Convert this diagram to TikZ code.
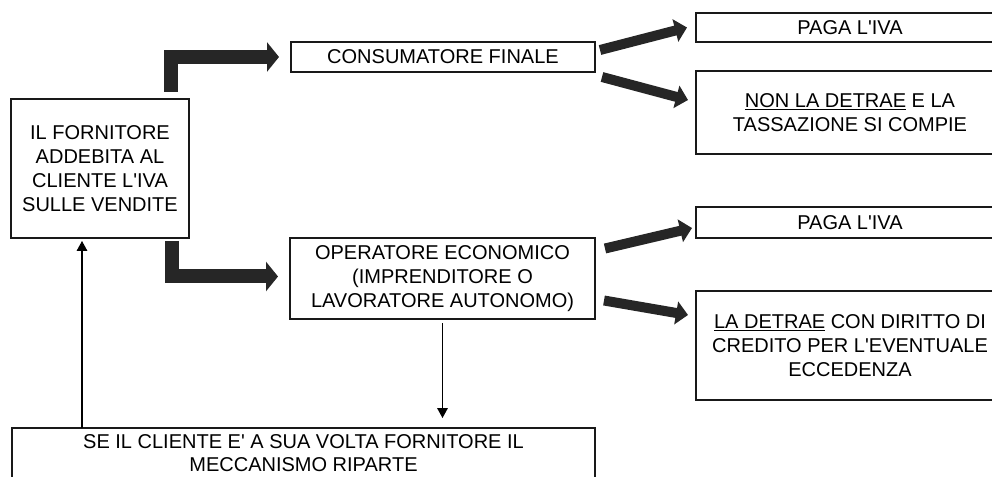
\documentclass[tikz,border=0pt]{standalone}
\usepackage{fontspec}
\setmainfont{Liberation Sans}
\usetikzlibrary{arrows.meta,calc}
\newcommand{\ap}{\textquotesingle}
\begin{document}
\begin{tikzpicture}[x=0.75pt,y=-0.75pt,
  box/.style={draw=black!90, line width=1.2pt, inner sep=0pt, outer sep=0pt,
    align=center, font=\fontsize{15}{18}\selectfont},
  fatelbow/.style={draw=black!85, line width=10.5pt, line join=miter,
    -{Triangle[length=9pt,width=21.75pt]}},
  fatdiag/.style={draw=black!85, line width=7.5pt,
    -{Triangle[length=9pt,width=17pt]}},
  thin/.style={draw=black, line width=0.8pt, -{Triangle[length=7.5pt,width=8pt]}}]
\useasboundingbox (0,0) rectangle (992,477);
\clip (0,0) rectangle (992,477);
\node[box, minimum width=133.5pt, minimum height=104.25pt] (forn) at (100,168.5)
  {IL FORNITORE\\ADDEBITA AL\\CLIENTE L\ap IVA\\SULLE VENDITE};
\node[box, minimum width=228pt, minimum height=22.5pt] (cons) at (443,57)
  {CONSUMATORE FINALE};
\node[box, minimum width=228.75pt, minimum height=60.75pt] (oper) at (442.5,278.5)
  {OPERATORE ECONOMICO\\(IMPRENDITORE O\\LAVORATORE AUTONOMO)};
\node[box, minimum width=231pt, minimum height=22pt] (paga1) at (850,27.5)
  {PAGA L\ap IVA};
\node[box, minimum width=231pt, minimum height=62.25pt] (nonla) at (850,112.5)
  {\underline{NON LA DETRAE} E LA\\TASSAZIONE SI COMPIE};
\node[box, minimum width=231pt, minimum height=23pt] (paga2) at (850,222.5)
  {PAGA L\ap IVA};
\node[box, minimum width=231pt, minimum height=81.75pt] (ladet) at (850,345.5)
  {\underline{LA DETRAE} CON DIRITTO DI\\CREDITO PER L\ap EVENTUALE\\ECCEDENZA};
\node[box, minimum width=437.25pt, minimum height=37.5pt,
  font=\fontsize{15}{17}\selectfont] (se) at (303.5,453)
  {SE IL CLIENTE E\ap{} A SUA VOLTA FORNITORE IL\\MECCANISMO RIPARTE};
% elbow arrows
\draw[fatelbow] ($(forn.north)+(71,-7)$) |- ($(cons.west)+(-12,0)$);
\draw[fatelbow] ($(forn.south)+(72,3)$) |- ($(oper.west)+(-12,-2)$);
% diagonal arrows
\draw[fatdiag] ($(cons.east)+(5,-7)$) -- ($(paga1.west)+(-9,0)$);
\draw[fatdiag] ($(cons.east)+(7,20)$) -- ($(nonla.west)+(-8,-12.5)$);
\draw[fatdiag] ($(oper.east)+(10,-30)$) -- ($(paga2.west)+(-4,5.5)$);
\draw[fatdiag] ($(oper.east)+(9,22)$) -- ($(ladet.west)+(-8,-30.5)$);
% thin arrows
\draw[thin] ($(oper.south)+(0,4)$) -- ($(se.north -| oper.south)+(0,-10)$);
\draw[thin] ($(se.north west)+(70,0)$) -- ($(forn.south west)+(71,3)$);
\end{tikzpicture}
\end{document}
